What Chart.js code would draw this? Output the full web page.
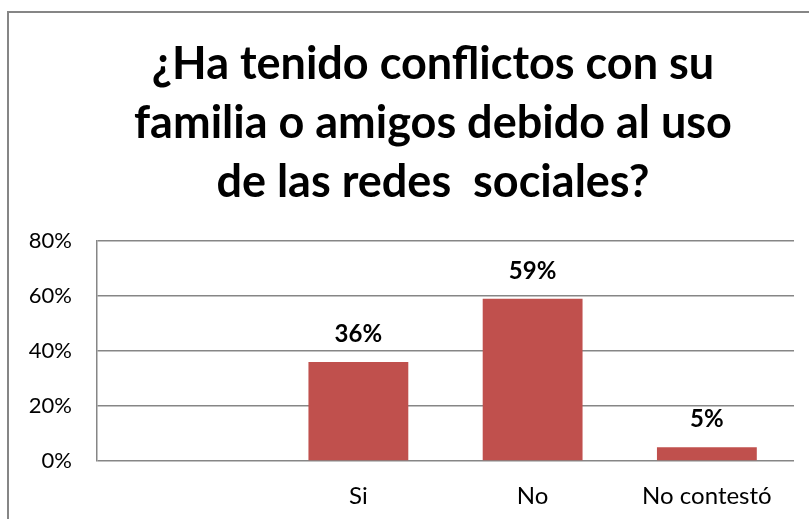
<!DOCTYPE html>
<html>
<head>
<meta charset="utf-8">
<script src="https://cdn.jsdelivr.net/npm/chart.js@4/dist/chart.umd.min.js"></script>
<style>
  html, body { margin: 0; padding: 0; background: #fff; }
  #wrap { width: 809px; height: 519px; position: relative; }
</style>
</head>
<body>
<div id="wrap"><canvas id="chart"></canvas></div>
<script>
const titleLines = ['¿Ha tenido conflictos con su', 'familia o amigos debido al uso', 'de las redes  sociales?'];
const categories = ['', 'Si', 'No', 'No contestó'];
const values = [null, 36, 59, 5];
const yTicks = [0, 20, 40, 60, 80];

const barColor = '#C0504D';
const lineColor = '#868686';
const fontFamily = 'Lato, "Open Sans", sans-serif';

// frame + title + value labels
const extras = {
    id: 'extras',
    afterDatasetsDraw(chart) {
        const ctx = chart.ctx;
        const meta = chart.getDatasetMeta(0);
        ctx.save();
        ctx.fillStyle = '#000';
        ctx.font = 'bold 24px ' + fontFamily;
        ctx.textAlign = 'center';
        ctx.textBaseline = 'alphabetic';
        meta.data.forEach((bar, i) => {
            if (values[i] == null) return;
            ctx.fillText(values[i] + '%', bar.x, bar.y - 20);
        });
        ctx.restore();
    },
    afterDraw(chart) {
        const ctx = chart.ctx;
        ctx.save();
        ctx.strokeStyle = lineColor;
        ctx.lineWidth = 2;
        ctx.beginPath();
        ctx.moveTo(8, 519);
        ctx.lineTo(8, 12);
        ctx.lineTo(809, 12);
        ctx.stroke();

        ctx.fillStyle = '#000';
        ctx.font = 'bold 45px ' + fontFamily;
        ctx.textAlign = 'center';
        ctx.textBaseline = 'alphabetic';
        const baselines = [79, 138, 197];
        titleLines.forEach((t, i) => ctx.fillText(t, 433, baselines[i]));
        ctx.restore();
    }
};

new Chart(document.getElementById('chart'), {
    type: 'bar',
    data: {
        labels: categories,
        datasets: [{
            data: values,
            backgroundColor: barColor,
            borderWidth: 0,
            barPercentage: 0.573,
            categoryPercentage: 1
        }]
    },
    options: {
        responsive: true,
        maintainAspectRatio: false,
        animation: false,
        layout: { padding: { top: 241, right: 15, bottom: 0, left: 0 } },
        plugins: {
            legend: { display: false },
            title: { display: false },
            tooltip: { enabled: false }
        },
        scales: {
            x: {
                grid: { display: false, drawTicks: false, tickLength: 0 },
                border: { display: false },
                ticks: { color: '#000', font: { family: fontFamily, size: 24 }, padding: 21, maxRotation: 0 },
                afterFit: (s) => { s.height = 58; }
            },
            y: {
                min: 0,
                max: 80,
                afterBuildTicks: (s) => { s.ticks = yTicks.map(v => ({ value: v })); },
                grid: { color: lineColor, lineWidth: 1.5, drawTicks: false, tickLength: 0 },
                border: { display: true, color: lineColor, width: 1.5 },
                ticks: {
                    color: '#000',
                    font: { family: fontFamily, size: 22 },
                    padding: 25,
                    callback: (v) => v + '%'
                },
                afterFit: (s) => { s.width = 97; }
            }
        }
    },
    plugins: [extras]
});
</script>
</body>
</html>
